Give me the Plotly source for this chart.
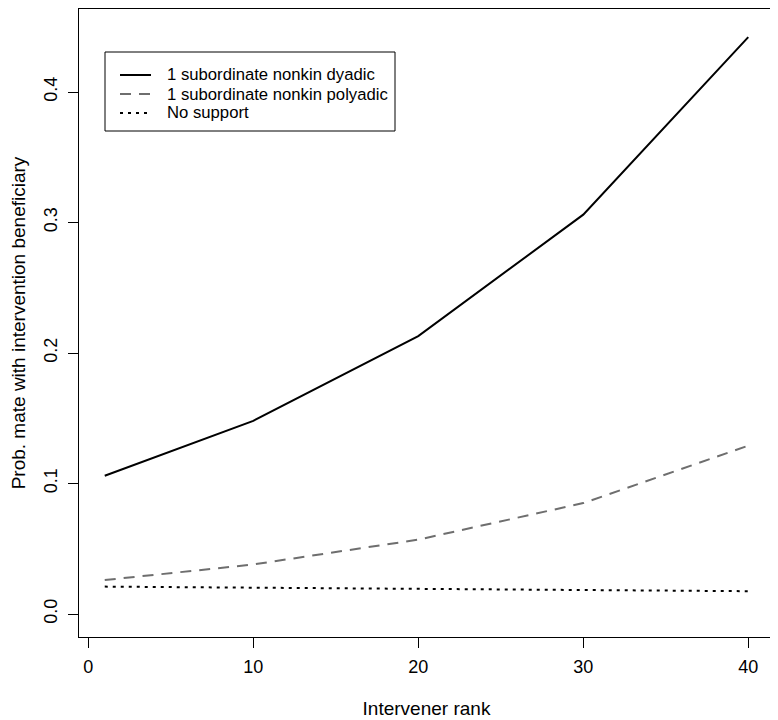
import plotly.graph_objects as go

# intervener rank positions
rank = [1, 10, 20, 30, 40]

# predicted probability of mating with the intervention beneficiary
dyadic = [0.106, 0.148, 0.213, 0.306, 0.442]
polyadic = [0.026, 0.038, 0.057, 0.085, 0.129]
no_support = [0.021, 0.0203, 0.0195, 0.0186, 0.0175]

series_names = [
    "1 subordinate nonkin dyadic",
    "1 subordinate nonkin polyadic",
    "No support",
]

x_ticks = [0, 10, 20, 30, 40]
y_ticks = [0.0, 0.1, 0.2, 0.3, 0.4]

FONT = "Liberation Sans, Arial, sans-serif"

# the page body adds an 8px margin, so the figure is a bit smaller and
# the layout below is given in page pixels minus that offset
OFF = 8
W, H = 778 - OFF, 720 - OFF
M = dict(l=79 - OFF, r=4, t=1, b=83)
PW, PH = W - M["l"] - M["r"], H - M["t"] - M["b"]


def px(x):  # page pixel column -> paper x
    return (x - OFF - M["l"]) / PW


def py(y):  # page pixel row -> paper y
    return (H - M["b"] - (y - OFF)) / PH


fig = go.Figure()

styles = [
    dict(color="black", width=2, dash="solid"),
    dict(color="#6e6e6e", width=2, dash="11px,8px"),
    dict(color="black", width=2, dash="3px,5px"),
]
for name, ys, st in zip(series_names, [dyadic, polyadic, no_support], styles):
    fig.add_trace(go.Scatter(
        x=rank, y=ys, name=name, mode="lines",
        line=st,
        hovertemplate=name + "<br>rank %{x}: %{y:.3f}<extra></extra>",
    ))

# legend box, drawn R-style (plotly's own legend rows are too tall)
fig.add_shape(type="rect", xref="paper", yref="paper",
              x0=px(105), x1=px(395), y0=py(131), y1=py(52),
              line=dict(color="black", width=1), fillcolor="white", layer="above")
for i, (name, st) in enumerate(zip(series_names, styles)):
    row = 75 + i * 19
    fig.add_shape(type="line", xref="paper", yref="paper",
                  x0=px(120), x1=px(151), y0=py(row), y1=py(row),
                  line=st, layer="above")
    fig.add_annotation(text=name, xref="paper", yref="paper",
                       x=px(165), y=py(row), xanchor="left", yanchor="middle",
                       showarrow=False,
                       font=dict(family=FONT, size=16.7, color="black"))

# R-style 4% padding on x
xpad = (max(rank) - min(rank)) * 0.04

axis_common = dict(
    showgrid=False, zeroline=False, automargin=False,
    showline=True, linecolor="black", linewidth=1, mirror=True,
    ticks="outside", ticklen=10, tickwidth=1, tickcolor="black",
    tickfont=dict(family=FONT, size=18, color="black"),
)

fig.update_layout(
    width=W, height=H,
    paper_bgcolor="white", plot_bgcolor="white",
    margin=M,
    font=dict(family=FONT, color="black"),
    showlegend=False,
    xaxis=dict(
        **axis_common,
        range=[min(rank) - xpad, max(rank) + xpad],
        tickvals=x_ticks,
        ticklabelstandoff=3,
        title=dict(text="Intervener rank", font=dict(family=FONT, size=19), standoff=26),
    ),
    yaxis=dict(
        **axis_common,
        range=[-0.0176, 0.4636],
        tickvals=y_ticks,
        tickformat=".1f",
        tickangle=-90,
        ticklabelstandoff=4,
        title=dict(text="Prob. mate with intervention beneficiary",
                   font=dict(family=FONT, size=19), standoff=13),
    ),
)

fig.write_html("out.html")
